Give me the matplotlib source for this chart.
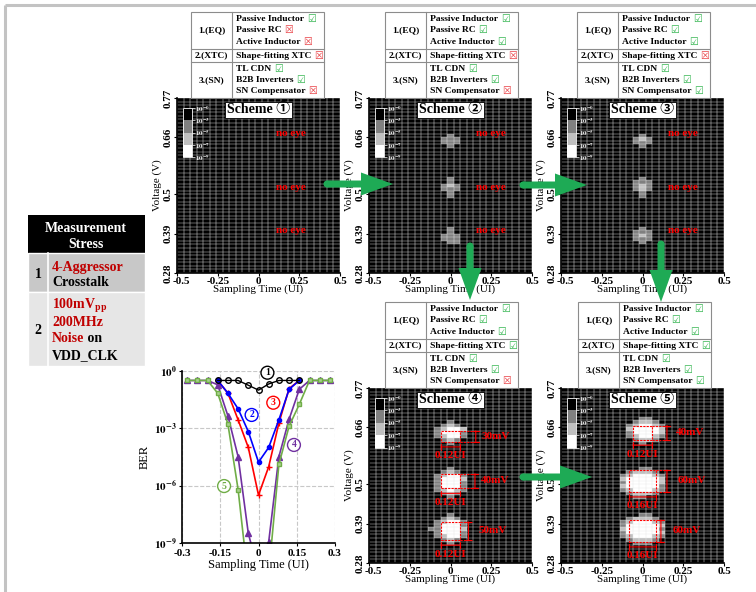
import numpy as np
import matplotlib
matplotlib.use("Agg")
import matplotlib.pyplot as plt
from matplotlib.colors import ListedColormap, BoundaryNorm
from matplotlib.patches import Rectangle, FancyArrow, Circle
from matplotlib.ticker import NullLocator
from matplotlib.transforms import ScaledTranslation

plt.rcParams['font.family'] = ['Liberation Serif', 'Noto Sans CJK SC', 'DejaVu Sans']
plt.rcParams['font.weight'] = 'bold'
plt.rcParams['mathtext.fontset'] = 'stix'
plt.rcParams['mathtext.default'] = 'bf'
plt.rcParams['axes.unicode_minus'] = False

W, H = 756, 592
RED = '#ff0000'
DRED = '#c00000'
GREEN_ARROW = '#1eaa55'

# ---------------- bathtub curves (BER vs sampling time) ----------------
t_mid = [-0.16, -0.12, -0.08, -0.04, 0.0, 0.04, 0.08, 0.12, 0.16]
t_full = [-0.28, -0.24, -0.20, -0.16, -0.12, -0.08, -0.04, 0.0,
          0.04, 0.08, 0.12, 0.16, 0.20, 0.24, 0.28]
ber_s1 = [0.32, 0.32, 0.32, 0.18, 0.10, 0.21, 0.32, 0.32, 0.32]
ber_s2 = [0.32, 6.9e-2, 1.05e-2, 6.8e-4, 1.7e-5, 1.0e-4, 2.8e-3, 0.11, 0.32]
ber_s3 = [0.32, 6.9e-2, 2.8e-3, 1.0e-4, 3.2e-7, 9.8e-6, 1.9e-3, 0.12, 0.32]
ber_s4 = [0.32, 0.32, 0.32, 0.19, 4.5e-3, 3.3e-5, 3.2e-9, 3e-11,
          1.15e-9, 3.3e-5, 3.0e-3, 0.11, 0.32, 0.32, 0.32]
ber_s5 = [0.32, 0.32, 0.32, 6.9e-2, 1.7e-3, 6.3e-7, 1e-11, 1e-13,
          2.5e-11, 1.3e-5, 1.3e-3, 1.8e-2, 0.32, 0.32, 0.32]
curve_colors = ['black', '#0000ff', '#ff0000', '#7030a0', '#70ad47']
label_x = [0.035, -0.027, 0.058, 0.139, -0.135]
label_y = [10**-0.09, 10**-2.3, 10**-1.66, 10**-3.87, 10**-6.02]

# ---------------- eye scan grids ----------------
ui_edges = np.linspace(-0.5, 0.5, 26)       # 0.04 UI per column
volt_edges = np.linspace(0.28, 0.77, 50)    # 10 mV per row
ui_ticks = [-0.5, -0.25, 0, 0.25, 0.5]
ui_ticklabels = ['-0.5', '-0.25', '0', '0.25', '0.5']
volt_ticks = [0.28, 0.39, 0.5, 0.66, 0.77]
volt_ticklabels = ['0.28', '0.39', '0.5', '0.66', '0.77']
cbar_ticks = [-9, -7, -5, -3, 0]
cbar_labels = [r'$10^{-9}$', r'$10^{-7}$', r'$10^{-5}$', r'$10^{-3}$', r'$10^{-0}$']

# blobs: (row from top, first column, rows of log10(BER) digits: '0'->1e0 ... '8'->1e-8)
eye_s1 = []
eye_s2 = [
    (10, 11, ["040", "444", "444", "040"]),
    (22, 11, ["040", "040", "464", "444", "040", "040"]),
    (36, 11, ["040", "040", "444", "444", "044"]),
]
eye_s3 = [
    (10, 11, ["040", "464", "444", "040"]),
    (22, 11, ["040", "444", "464", "464", "040", "040"]),
    (36, 11, ["040", "444", "464", "444", "040"]),
]
eye_s4 = [
    (9, 10, ["00400", "04640", "46886", "48884", "46884", "04640", "00400"]),
    (22, 10, ["00400", "04640", "46884", "48886", "48884", "48884",
              "46864", "04640", "00400"]),
    (35, 9, ["000400", "004640", "046884", "048884", "448886", "048884",
             "046884", "004640", "000400"]),
]
eye_s5 = [
    (8, 10, ["004400", "046640", "468864", "688886", "488886", "468864",
             "046640", "004000"]),
    (22, 9, ["0004400", "0466640", "4688864", "6888886", "4888886",
             "6888884", "4688864", "0466640", "0044000"]),
    (35, 9, ["0004400", "0466640", "4688864", "4888886", "6888884",
             "4888886", "4688864", "0466640", "0044400"]),
]

# measured eye openings (center UI, center V, width UI, height V)
open_s4 = [(0, 0.635, 0.12, 0.03), (0, 0.51, 0.12, 0.04), (0, 0.37, 0.12, 0.05)]
open_s5 = [(0, 0.645, 0.12, 0.04), (0, 0.51, 0.16, 0.06), (0, 0.37, 0.16, 0.06)]

# circuit tables
items = ['Passive Inductor', 'Passive RC', 'Active Inductor', 'Shape-fitting XTC',
         'TL CDN', 'B2B Inverters', 'SN Compensator']
enabled = {
    1: [1, 0, 0, 0, 1, 1, 0],
    2: [1, 1, 1, 0, 1, 1, 0],
    3: [1, 1, 1, 0, 1, 1, 1],
    4: [1, 1, 1, 1, 1, 1, 0],
    5: [1, 1, 1, 1, 1, 1, 1],
}
circ = {1: '\u2460', 2: '\u2461', 3: '\u2462', 4: '\u2463', 5: '\u2464'}

cmap = ListedColormap(['white', '#c0c0c0', '#808080', 'black'])
norm = BoundaryNorm([-9, -7, -5, -3, 0], 4, clip=True)

fig = plt.figure(figsize=(W / 100, H / 100), dpi=100)


def px(x, y, w, h):
    return [x / W, 1 - (y + h) / H, w / W, h / H]


def build_scan(blobs):
    logber = np.zeros((len(volt_edges) - 1, len(ui_edges) - 1))
    for r0, c0, rows in blobs:
        for i, line in enumerate(rows):
            for j, ch in enumerate(line):
                if ch != '0':
                    logber[r0 + i, c0 + j] = -int(ch)
    return np.flipud(logber)


def eye_panel(left, top, blobs, num, noeye_x=None, openings=None, marks=None):
    ax = fig.add_axes(px(left, top, 163, 175))
    mesh = ax.pcolormesh(ui_edges, volt_edges, build_scan(blobs), cmap=cmap, norm=norm,
                         edgecolors='none')
    # white scan grid
    ax.vlines(ui_edges, 0.28, 0.77, color='#e8e8e8', lw=0.35, zorder=1.5)
    ax.hlines(volt_edges, -0.5, 0.5, color='#e8e8e8', lw=0.3, zorder=1.5)
    ax.set_xlim(-0.5, 0.5)
    ax.set_ylim(0.28, 0.77)
    ax.set_xticks(ui_ticks, labels=ui_ticklabels)
    ax.set_yticks(volt_ticks, labels=volt_ticklabels)
    ax.tick_params(axis='y', labelrotation=90, length=2, pad=1, labelsize=8)
    ax.tick_params(axis='x', length=2, pad=1, labelsize=8)
    for lab in ax.get_yticklabels():
        lab.set_va('center')
    first = ax.get_xticklabels()[0]
    first.set_transform(first.get_transform() + ScaledTranslation(3 / 72, 0, fig.dpi_scale_trans))
    for s in ('top', 'right'):
        ax.spines[s].set_visible(False)
    for s in ('left', 'bottom'):
        ax.spines[s].set_linewidth(1.2)
        ax.spines[s].set_zorder(3)
    ax.set_xlabel('Sampling Time (UI)', fontsize=8, labelpad=-1)
    ax.set_ylabel('Voltage (V)', fontsize=8, labelpad=1)

    cax = ax.inset_axes([0.037, 0.66, 0.055, 0.285])
    cb = fig.colorbar(mesh, cax=cax, ticks=cbar_ticks)
    cb.ax.set_yticklabels(cbar_labels)
    cb.ax.tick_params(colors='white', labelsize=5, length=2, width=0.5, pad=0.5)
    cb.outline.set_edgecolor('white')
    cb.outline.set_linewidth(0.6)

    ax.text(0, 0.737, 'Scheme ' + circ[num], ha='center', va='center', fontsize=10,
            zorder=5, bbox=dict(fc='white', ec='black', lw=0.6, pad=1.2))

    if noeye_x is not None:
        for v in (0.67, 0.52, 0.40):
            ax.text(noeye_x, v, 'no eye', color=RED, ha='center', va='center',
                    fontsize=8, zorder=5)

    if openings is not None:
        for (xc, vc, w, h), (xa, xl) in zip(openings, marks):
            x0, x1, y0, y1 = xc - w / 2, xc + w / 2, vc - h / 2, vc + h / 2
            ax.add_patch(Rectangle((x0, y0), w, h, fill=False, ec=RED, lw=0.8,
                                   ls=(0, (2, 1)), zorder=4))
            for y in (y0, y1):
                ax.plot([x1, xa + 0.02], [y, y], color=RED, lw=0.8, ls=(0, (2, 1)), zorder=4)
            ax.annotate('', xy=(xa, y1), xytext=(xa, y0), zorder=4,
                        arrowprops=dict(arrowstyle='|-|,widthA=0.2,widthB=0.2', color=RED,
                                        lw=0.8, shrinkA=0, shrinkB=0))
            ax.text(xl, vc, f'{round(h * 1000)}mV', color=RED, ha='center', va='center',
                    fontsize=8, zorder=5)
            ax.annotate('', xy=(x0, y0 - 0.015), xytext=(x1, y0 - 0.015), zorder=4,
                        arrowprops=dict(arrowstyle='|-|,widthA=0.2,widthB=0.2', color=RED,
                                        lw=0.8, shrinkA=0, shrinkB=0))
            ax.text(xc, y0 - 0.04, f'{w:.2f}UI', color=RED, ha='center', va='center',
                    fontsize=8, zorder=5)
    return ax


eye_panel(177, 98, eye_s1, 1, noeye_x=0.2)
eye_panel(369, 98, eye_s2, 2, noeye_x=0.25)
eye_panel(561, 98, eye_s3, 3, noeye_x=0.25)
eye_panel(369, 388, eye_s4, 4, openings=open_s4,
          marks=[(0.155, 0.28), (0.15, 0.275), (0.11, 0.26)])
eye_panel(561, 388, eye_s5, 5, openings=open_s5,
          marks=[(0.15, 0.29), (0.15, 0.30), (0.113, 0.27)])

# ---------------- BER bathtub axes ----------------
axb = fig.add_axes(px(182, 371, 153, 172))
axb.set_yscale('log')
axb.plot(t_full, ber_s4, '-^', color=curve_colors[3], ms=4, lw=1.2)
axb.plot(t_full, ber_s5, '-s', color=curve_colors[4], mfc='#a9d18e', ms=3.5, lw=1.2)
axb.plot(t_mid, ber_s3, '-+', color=curve_colors[2], ms=4, mew=1, lw=1.2)
axb.plot(t_mid, ber_s2, '-o', color=curve_colors[1], ms=3, lw=1.2)
axb.plot(t_mid, ber_s1, '-o', color=curve_colors[0], mfc='none', ms=4, lw=1)
axb.set_xlim(-0.3, 0.3)
axb.set_ylim(1e-9, 1)
axb.set_xticks([-0.3, -0.15, 0, 0.15, 0.3], labels=['-0.3', '-0.15', '0', '0.15', '0.3'])
axb.set_yticks([1, 1e-3, 1e-6, 1e-9],
               labels=[r'$10^{0}$', r'$10^{-3}$', r'$10^{-6}$', r'$10^{-9}$'])
axb.yaxis.set_minor_locator(NullLocator())
axb.tick_params(labelsize=8, length=2, pad=2)
axb.grid(True, ls='--', color='#c8c8c8', lw=0.8)
for s in ('top', 'right'):
    axb.spines[s].set_visible(False)
for s in ('left', 'bottom'):
    axb.spines[s].set_linewidth(1.2)
axb.set_xlabel('Sampling Time (UI)', fontsize=9, labelpad=1)
axb.set_ylabel('BER', fontsize=9, labelpad=2)
for k in range(5):
    axb.text(label_x[k], label_y[k], str(k + 1), color=curve_colors[k], fontsize=7,
             ha='center', va='center', clip_on=False,
             bbox=dict(boxstyle='circle,pad=0.2', fc='white', ec=curve_colors[k], lw=1))

# ---------------- overlay: tables, arrows, frame ----------------
ov = fig.add_axes([0, 0, 1, 1])
ov.set_xlim(0, W)
ov.set_ylim(H, 0)
ov.axis('off')
ov.patch.set_alpha(0)

ov.plot([5, W], [5, 5], color='#c3c3c3', lw=2.2, solid_capstyle='butt')
ov.plot([5, 5], [5, H], color='#c3c3c3', lw=2.2, solid_capstyle='butt')


def draw_table(x0, y0, num):
    w, c1 = 133, 41
    ov.add_patch(Rectangle((x0, y0), w, 86, fc='white', ec='#8c8c8c', lw=0.8))
    for yy in (37, 50):
        ov.plot([x0, x0 + w], [y0 + yy] * 2, color='#8c8c8c', lw=0.8)
    ov.plot([x0 + c1] * 2, [y0, y0 + 86], color='#8c8c8c', lw=0.8)
    for name, yc in (('1.(EQ)', 18.5), ('2.(XTC)', 43.5), ('3.(SN)', 68)):
        ov.text(x0 + c1 / 2, y0 + yc, name, ha='center', va='center', fontsize=6.8)
    for it, yy, on in zip(items, (7, 18, 30, 44, 57, 68, 79), enabled[num]):
        t = ov.text(x0 + c1 + 4, y0 + yy, it, ha='left', va='center', fontsize=6.8)
        ov.annotate('\u2611' if on else '\u2612', xy=(1, 0.5), xycoords=t,
                    xytext=(2, 0), textcoords='offset points', ha='left', va='center',
                    fontsize=7, family='DejaVu Sans', weight='normal',
                    color='#2db34a' if on else '#e8383d')


draw_table(191, 12, 1)
draw_table(385, 12, 2)
draw_table(577, 12, 3)
draw_table(385, 302, 4)
draw_table(578, 302, 5)

# measurement stress table
ov.add_patch(Rectangle((28, 215), 117, 38, fc='black', ec='none'))
ov.add_patch(Rectangle((28, 253), 117, 39, fc='#c8c8c8', ec='white', lw=1))
ov.add_patch(Rectangle((28, 292), 117, 74, fc='#e6e6e6', ec='white', lw=1))
ov.plot([48, 48], [253, 366], color='white', lw=1.2)
ov.text(86, 229, 'Measurement', color='white', ha='center', va='center', fontsize=10)
ov.text(86, 245, 'Stress', color='white', ha='center', va='center', fontsize=10)
ov.text(38, 274, '1', ha='center', va='center', fontsize=10)
ov.text(52, 267, '4-Aggressor', color=DRED, ha='left', va='center', fontsize=10)
ov.text(52, 283, 'Crosstalk', ha='left', va='center', fontsize=10)
ov.text(38, 331, '2', ha='center', va='center', fontsize=10)
ov.text(52, 306, r'100mV$_{\mathbf{pp}}$', color=DRED, ha='left', va='center', fontsize=10)
ov.text(52, 323, '200MHz', color=DRED, ha='left', va='center', fontsize=10)
tn = ov.text(52, 339, 'Noise', color=DRED, ha='left', va='center', fontsize=10)
ov.annotate(' on', xy=(1, 0.5), xycoords=tn, ha='left', va='center', fontsize=10)
ov.text(52, 356, 'VDD_CLK', ha='left', va='center', fontsize=10)


def green_arrow(x0, y0, x1, y1):
    ov.add_patch(FancyArrow(x0, y0, x1 - x0, y1 - y0, width=7, head_width=23,
                            head_length=32, length_includes_head=True,
                            color=GREEN_ARROW, lw=0))
    ov.add_patch(Circle((x0, y0), 3.5, color=GREEN_ARROW, lw=0))


green_arrow(327, 184, 393, 184)
green_arrow(523, 185, 587, 185)
green_arrow(470, 246, 470, 300)
green_arrow(661, 244, 661, 302)
green_arrow(523, 477, 592, 477)

fig.savefig('out.png', dpi=100)
